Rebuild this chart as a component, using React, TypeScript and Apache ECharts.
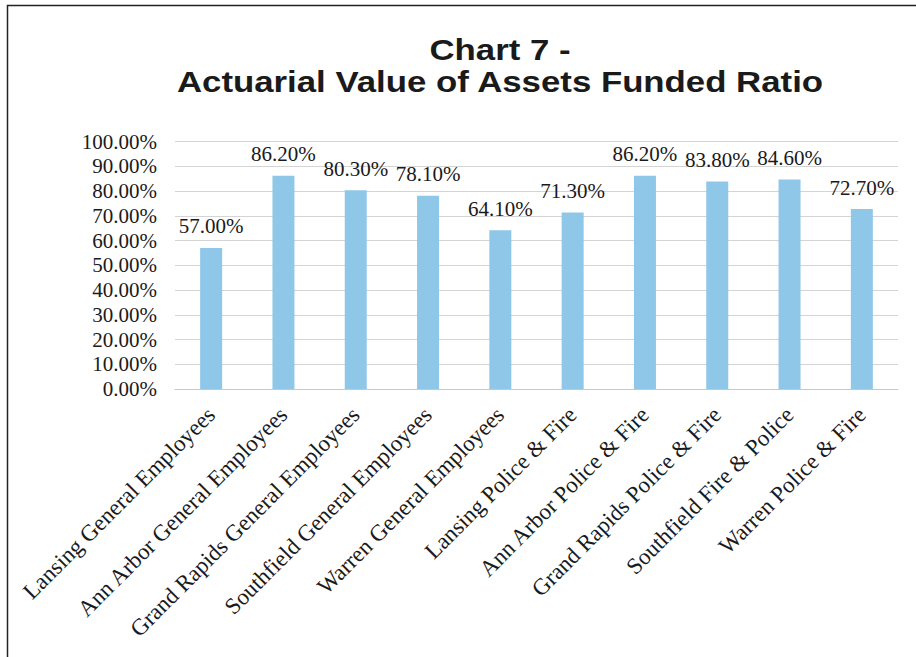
import React, { useEffect, useRef } from "react";
import * as echarts from "echarts";

const categories = [
  "Lansing General Employees",
  "Ann Arbor General Employees",
  "Grand Rapids General Employees",
  "Southfield General Employees",
  "Warren General Employees",
  "Lansing Police & Fire",
  "Ann Arbor Police & Fire",
  "Grand Rapids Police & Fire",
  "Southfield Fire & Police",
  "Warren Police & Fire",
];
const fundedRatio = [57.0, 86.2, 80.3, 78.1, 64.1, 71.3, 86.2, 83.8, 84.6, 72.7];
const titleLines = ["Chart 7 -", "Actuarial Value of Assets Funded Ratio"];

const SERIF = "'Liberation Serif', 'Times New Roman', serif";
const SANS = "'Liberation Sans', Arial, sans-serif";

export default function App() {
  const ref = useRef<HTMLDivElement>(null);
  useEffect(() => {
    if (!ref.current) return;
    const chart = echarts.init(ref.current, null, { renderer: "svg" });
    chart.setOption({
      animation: false,
      backgroundColor: "#ffffff",
      graphic: [
        {
          type: "rect",
          z: 0,
          silent: true,
          shape: { x: 7.5, y: 5.5, width: 1000, height: 1000 },
          style: { fill: "none", stroke: "#222", lineWidth: 1.5 },
        },
        {
          type: "text",
          x: 500,
          y: 49.5,
          scaleX: 1.16,
          style: {
            text: titleLines[0],
            fontFamily: SANS,
            fontWeight: "bold",
            fontSize: 30,
            fill: "#1a1a1a",
            textAlign: "center",
            textVerticalAlign: "middle",
          },
        },
        {
          type: "text",
          x: 500,
          y: 81.5,
          scaleX: 1.16,
          style: {
            text: titleLines[1],
            fontFamily: SANS,
            fontWeight: "bold",
            fontSize: 30,
            fill: "#1a1a1a",
            textAlign: "center",
            textVerticalAlign: "middle",
          },
        },
      ],
      grid: {
        left: 175,
        right: 18,
        top: 141.5,
        bottom: 268,
        containLabel: false,
        outerBoundsMode: "none",
      },
      xAxis: {
        type: "category",
        data: categories,
        axisTick: { show: false },
        axisLine: { show: true, lineStyle: { color: "#c8c8c8", width: 1 } },
        axisLabel: {
          interval: 0,
          rotate: 45,
          margin: 22,
          fontFamily: SERIF,
          fontSize: 23,
          color: "#1a1a1a",
        },
      },
      yAxis: {
        type: "value",
        min: 0,
        max: 100,
        interval: 10,
        axisLine: { show: false },
        axisTick: { show: false },
        splitLine: { lineStyle: { color: "#d4d4d4", width: 1 } },
        axisLabel: {
          margin: 18,
          fontFamily: SERIF,
          fontSize: 21,
          color: "#1a1a1a",
          formatter: (v: number) => v.toFixed(2) + "%",
        },
      },
      series: [
        {
          type: "bar",
          data: fundedRatio,
          barWidth: 22,
          itemStyle: { color: "#8fc7e9" },
          label: {
            show: true,
            position: "top",
            distance: 11,
            fontFamily: SERIF,
            fontSize: 21,
            color: "#1a1a1a",
            formatter: (p: any) => Number(p.value).toFixed(2) + "%",
          },
        },
      ],
    });
    return () => chart.dispose();
  }, []);
  return (
    <div
      ref={ref}
      style={{ position: "fixed", left: 0, top: 0, width: 916, height: 657 }}
    />
  );
}
